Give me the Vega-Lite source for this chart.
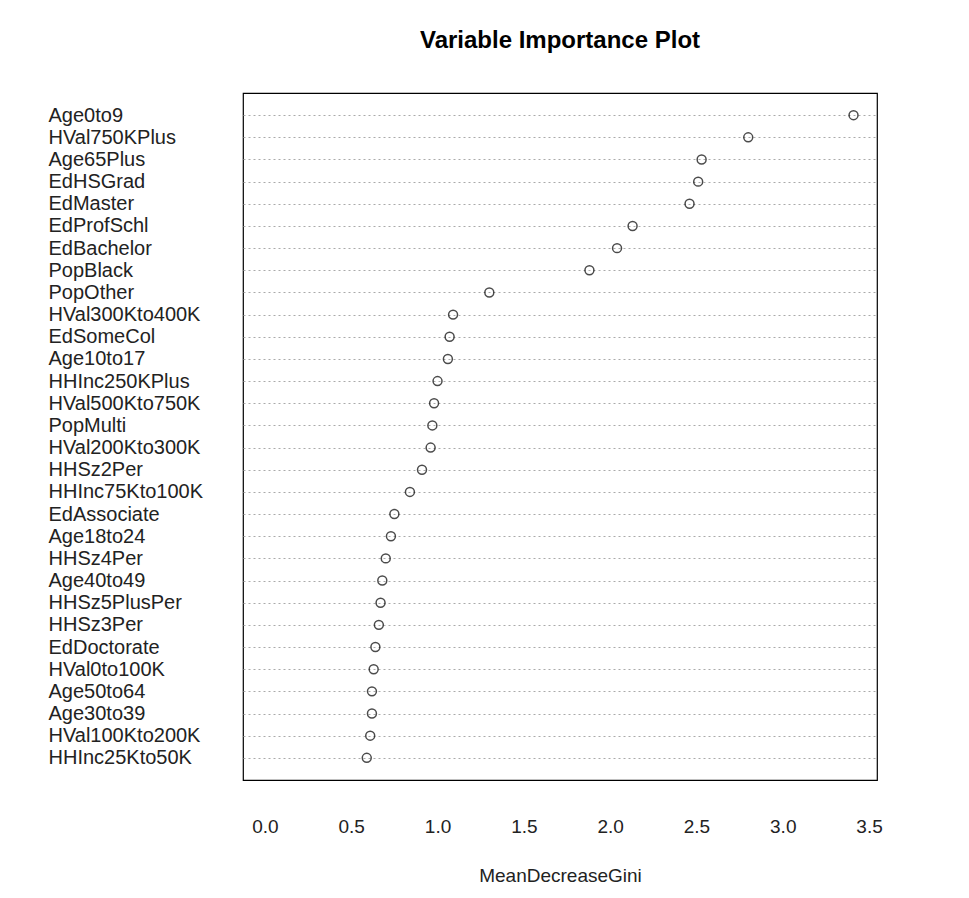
{
  "$schema": "https://vega.github.io/schema/vega-lite/v6.json",
  "width": 634,
  "height": 687,
  "autosize": {"type": "none"},
  "padding": {"left": 243, "top": 93, "right": 92, "bottom": 118},
  "background": "white",
  "title": {
    "text": "Variable Importance Plot",
    "font": "Liberation Sans",
    "fontSize": 24,
    "fontWeight": "bold",
    "color": "black",
    "anchor": "middle",
    "offset": 40
  },
  "config": {
    "view": {"stroke": "black", "strokeWidth": 1.2},
    "axis": {"labelFont": "Liberation Sans", "titleFont": "Liberation Sans", "labelColor": "#222", "titleColor": "#222"}
  },
  "data": {
    "values": [
      {"variable": "Age0to9", "gini": 3.41},
      {"variable": "HVal750KPlus", "gini": 2.80},
      {"variable": "Age65Plus", "gini": 2.53},
      {"variable": "EdHSGrad", "gini": 2.51},
      {"variable": "EdMaster", "gini": 2.46},
      {"variable": "EdProfSchl", "gini": 2.13},
      {"variable": "EdBachelor", "gini": 2.04},
      {"variable": "PopBlack", "gini": 1.88},
      {"variable": "PopOther", "gini": 1.30},
      {"variable": "HVal300Kto400K", "gini": 1.09},
      {"variable": "EdSomeCol", "gini": 1.07},
      {"variable": "Age10to17", "gini": 1.06},
      {"variable": "HHInc250KPlus", "gini": 1.00},
      {"variable": "HVal500Kto750K", "gini": 0.98},
      {"variable": "PopMulti", "gini": 0.97},
      {"variable": "HVal200Kto300K", "gini": 0.96},
      {"variable": "HHSz2Per", "gini": 0.91},
      {"variable": "HHInc75Kto100K", "gini": 0.84},
      {"variable": "EdAssociate", "gini": 0.75},
      {"variable": "Age18to24", "gini": 0.73},
      {"variable": "HHSz4Per", "gini": 0.70},
      {"variable": "Age40to49", "gini": 0.68},
      {"variable": "HHSz5PlusPer", "gini": 0.67},
      {"variable": "HHSz3Per", "gini": 0.66},
      {"variable": "EdDoctorate", "gini": 0.64},
      {"variable": "HVal0to100K", "gini": 0.63},
      {"variable": "Age50to64", "gini": 0.62},
      {"variable": "Age30to39", "gini": 0.62},
      {"variable": "HVal100Kto200K", "gini": 0.61},
      {"variable": "HHInc25Kto50K", "gini": 0.59}
    ]
  },
  "mark": {"type": "point", "shape": "circle", "filled": false, "stroke": "black", "strokeWidth": 1.5, "size": 80},
  "encoding": {
    "x": {
      "field": "gini",
      "type": "quantitative",
      "title": "MeanDecreaseGini",
      "scale": {"domain": [-0.127, 3.546], "nice": false, "zero": false},
      "axis": {
        "values": [0, 0.5, 1, 1.5, 2, 2.5, 3, 3.5],
        "format": ".1f",
        "grid": false,
        "domain": false,
        "ticks": false,
        "labelFontSize": 19,
        "labelPadding": 37,
        "titleFontSize": 19,
        "titleFontWeight": "normal",
        "titlePadding": 30
      }
    },
    "y": {
      "field": "variable",
      "type": "nominal",
      "sort": null,
      "title": null,
      "scale": {"type": "point", "padding": 1},
      "axis": {
        "grid": true,
        "gridDash": [2, 3],
        "gridColor": "#aaa",
        "domain": false,
        "ticks": false,
        "labelAlign": "left",
        "labelPadding": 195,
        "labelFontSize": 20,
        "labelColor": "#222"
      }
    }
  }
}
